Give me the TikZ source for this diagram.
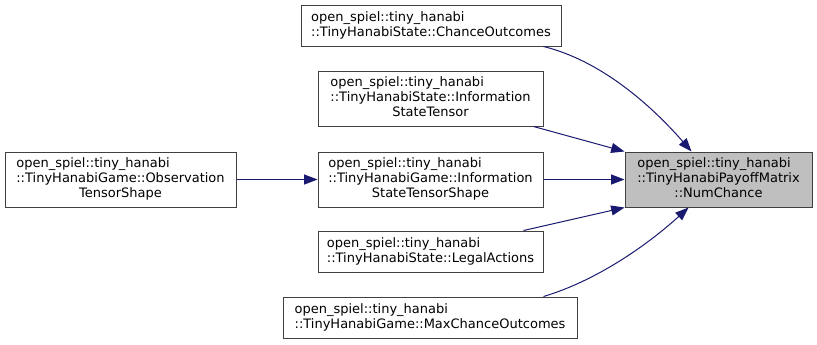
\documentclass[tikz,border=0pt]{standalone}
\usepackage{fontspec}
\setmainfont{DejaVu Sans}
\usetikzlibrary{arrows.meta,calc}
\definecolor{edgeblue}{HTML}{191970}
\definecolor{boxgray}{HTML}{BFBFBF}
\newcommand{\lastline}[1]{\multicolumn{1}{@{}c@{}}{#1}}

\tikzset{
  fn/.style={rectangle, draw=black!75, line width=0.75pt, inner sep=0pt,
    minimum height=41.25pt, font=\fontsize{9.75}{11.25}\selectfont},
  fnlow/.style={fn, minimum height=30.75pt},
  call/.style={->, draw=edgeblue, line width=0.75pt}
}

\begin{document}
\begin{tikzpicture}[x=0.75pt,y=-0.75pt,>={Triangle[length=10pt,width=7.5pt]}]
\useasboundingbox (0,0) rectangle (817,344);

\node[fn, fill=boxgray, minimum width=140.25pt] (nc) at (718.5,179.5)
  {\begin{tabular}{@{}l@{}}open\_spiel::tiny\_hanabi\\::TinyHanabiPayoffMatrix\\\lastline{::NumChance}\end{tabular}};

\node[fnlow, minimum width=195pt] (f1) at (431,25.5)
  {\begin{tabular}{@{}l@{}}open\_spiel::tiny\_hanabi\\::TinyHanabiState::ChanceOutcomes\end{tabular}};
\node[fn, minimum width=168.75pt] (f2) at (430.5,98.5)
  {\begin{tabular}{@{}l@{}}open\_spiel::tiny\_hanabi\\::TinyHanabiState::Information\\\lastline{StateTensor}\end{tabular}};
\node[fn, minimum width=168.75pt] (f3) at (430.5,179.5)
  {\begin{tabular}{@{}l@{}}open\_spiel::tiny\_hanabi\\::TinyHanabiGame::Information\\\lastline{StateTensorShape}\end{tabular}};
\node[fn, minimum width=173.25pt] (f4) at (120.5,179.5)
  {\begin{tabular}{@{}l@{}}open\_spiel::tiny\_hanabi\\::TinyHanabiGame::Observation\\\lastline{TensorShape}\end{tabular}};
\node[fnlow, minimum width=168.75pt] (f5) at (430.5,251.5)
  {\begin{tabular}{@{}l@{}}open\_spiel::tiny\_hanabi\\::TinyHanabiState::LegalActions\end{tabular}};
\node[fnlow, minimum width=220.5pt] (f6) at (430,317.5)
  {\begin{tabular}{@{}l@{}}open\_spiel::tiny\_hanabi\\::TinyHanabiGame::MaxChanceOutcomes\end{tabular}};

% callers of NumChance
\draw[call] ($(f1.south east)+(-18,0)$) .. controls +(57,14) and +(-41,-47) .. ($(nc.north)+(-27,0)$);
\draw[call] ($(f2.south east)+(-10,0)$) -- (nc.north west);
\draw[call] (f3.east) -- (nc.west);
\draw[call] ($(f5.north east)+(-20,0)$) -- (nc.south west);
\draw[call] ($(f6.north east)+(-34,0)$) .. controls +(57,-17) and +(-36,33) .. ($(nc.south)+(-30,0)$);

\draw[call] (f4.east) -- (f3.west);

\end{tikzpicture}
\end{document}
